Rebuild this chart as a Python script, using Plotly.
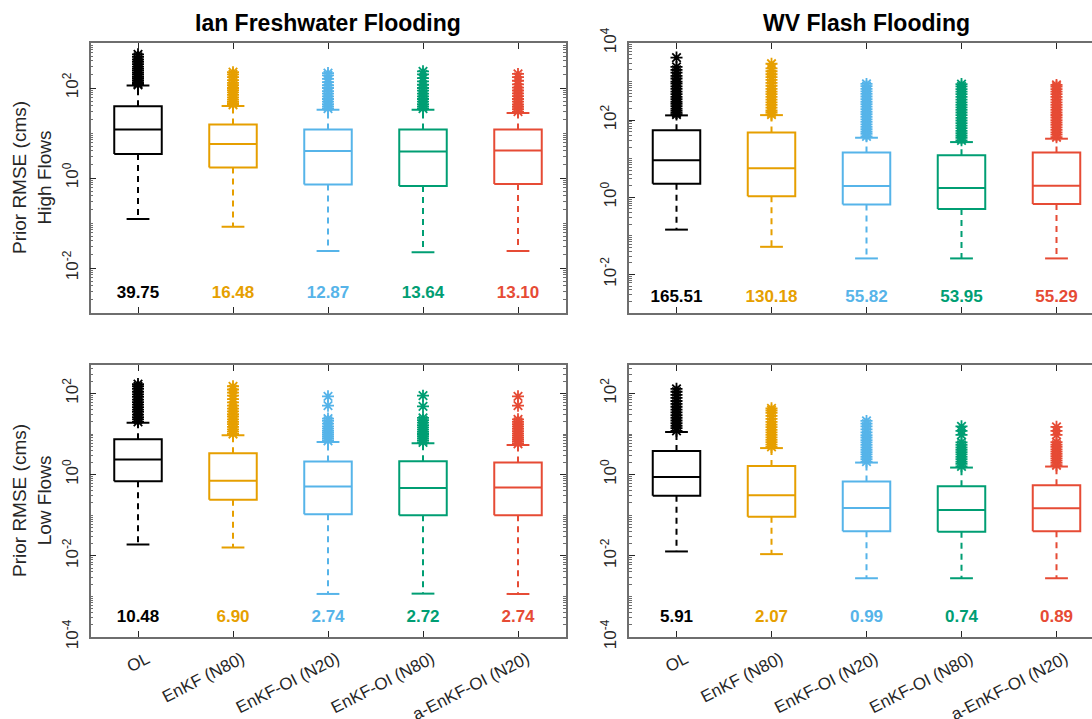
import plotly.graph_objects as go

# ---------------------------------------------------------------------------
# Data
# ---------------------------------------------------------------------------
methods = ["OL", "EnKF (N80)", "EnKF-OI (N20)", "EnKF-OI (N80)", "a-EnKF-OI (N20)"]
colors = ["#000000", "#E69F00", "#56B4E9", "#009E73", "#E64B35"]

# Ian Freshwater Flooding - high flows
ian_high_lower = [0.123, 0.083, 0.024, 0.0224, 0.024]
ian_high_q1 = [3.4, 1.72, 0.72, 0.66, 0.74]
ian_high_median = [12.0, 5.7, 4.0, 3.9, 4.1]
ian_high_q3 = [39.5, 15.5, 12.0, 12.0, 12.0]
ian_high_upper = [113, 40, 33, 33, 28]
ian_high_mean = [39.75, 16.48, 12.87, 13.64, 13.10]
ian_high_outliers = [
    [118, 125, 135, 150, 165, 180, 200, 220, 245, 270, 300, 340, 380, 430, 490, 560],
    [42, 46, 50, 55, 62, 70, 80, 90, 100, 115, 130, 150, 175, 200, 225],
    [35, 39, 44, 50, 57, 65, 75, 85, 100, 115, 135, 160, 190, 215],
    [35, 39, 44, 50, 57, 65, 75, 87, 100, 118, 140, 165, 200, 235],
    [30, 34, 38, 43, 50, 57, 66, 76, 88, 102, 120, 145, 175, 205],
]

# WV Flash Flooding - high flows
wv_high_lower = [0.145, 0.052, 0.026, 0.026, 0.026]
wv_high_q1 = [2.26, 1.06, 0.65, 0.50, 0.67]
wv_high_median = [9.1, 5.7, 1.96, 1.74, 2.0]
wv_high_q3 = [55, 47.6, 14.4, 12.3, 14.4]
wv_high_upper = [133, 135, 35, 27, 33]
wv_high_mean = [165.51, 130.18, 55.82, 53.95, 55.29]
wv_high_outliers = [
    [140, 155, 175, 200, 230, 265, 300, 350, 400, 470, 550, 650, 750, 880, 1000,
     1200, 1400, 1700, 2000, 2400, 4200],
    [140, 160, 180, 210, 250, 290, 340, 400, 470, 550, 650, 780, 920, 1100, 1300,
     1550, 1850, 2200, 2900],
    [38, 44, 50, 58, 67, 78, 90, 105, 122, 142, 165, 192, 225, 260, 300, 350, 410,
     480, 560, 650, 760, 870],
    [30, 35, 40, 46, 53, 62, 72, 84, 98, 115, 135, 158, 185, 215, 250, 290, 340,
     400, 470, 550, 640, 750, 860],
    [36, 42, 48, 56, 65, 75, 87, 100, 117, 136, 158, 184, 214, 250, 290, 340, 400,
     470, 550, 640, 740, 820],
]

# Ian Freshwater Flooding - low flows
ian_low_lower = [0.019, 0.016, 0.00115, 0.00117, 0.00115]
ian_low_q1 = [0.69, 0.24, 0.105, 0.10, 0.10]
ian_low_median = [2.35, 0.71, 0.51, 0.47, 0.48]
ian_low_q3 = [7.4, 3.36, 2.1, 2.14, 2.0]
ian_low_upper = [19, 9.3, 6.4, 5.9, 5.4]
ian_low_mean = [10.48, 6.90, 2.74, 2.72, 2.74]
ian_low_outliers = [
    [20, 23, 26, 30, 35, 40, 46, 53, 61, 70, 82, 95, 110, 130, 150, 170],
    [10, 11.5, 13, 15, 17.5, 20, 23, 27, 31, 36, 42, 50, 60, 72, 88, 105, 125, 150],
    [6.8, 7.6, 8.5, 9.5, 10.7, 12, 13.5, 15.5, 18, 21, 24, 50, 85],
    [6.2, 7, 7.8, 8.8, 10, 11.3, 12.8, 14.5, 16.5, 19, 22, 25, 48, 88],
    [5.7, 6.4, 7.2, 8.1, 9.2, 10.4, 11.8, 13.4, 15.3, 17.5, 20, 23, 50, 85],
]

# WV Flash Flooding - low flows
wv_low_lower = [0.0128, 0.011, 0.0028, 0.0028, 0.0028]
wv_low_q1 = [0.30, 0.092, 0.04, 0.039, 0.04]
wv_low_median = [0.87, 0.31, 0.15, 0.134, 0.148]
wv_low_q3 = [3.8, 1.63, 0.68, 0.52, 0.55]
wv_low_upper = [11.2, 4.5, 1.98, 1.49, 1.58]
wv_low_mean = [5.91, 2.07, 0.99, 0.74, 0.89]
wv_low_outliers = [
    [12, 14, 16, 18.5, 21.5, 25, 29, 34, 40, 47, 55, 65, 78, 92, 110, 130],
    [4.8, 5.5, 6.3, 7.2, 8.3, 9.5, 11, 12.7, 14.7, 17, 20, 23.5, 28, 33, 38, 43],
    [2.1, 2.4, 2.75, 3.15, 3.6, 4.1, 4.7, 5.4, 6.2, 7.1, 8.2, 9.4, 11, 13, 15.5, 18, 21],
    [1.6, 1.85, 2.1, 2.4, 2.75, 3.15, 3.6, 4.1, 4.7, 5.4, 6.2, 9.5, 12, 15.5],
    [1.7, 1.95, 2.2, 2.5, 2.85, 3.25, 3.7, 4.2, 4.8, 5.5, 6.3, 9.5, 12, 15],
]

# ---------------------------------------------------------------------------
# Layout constants (pixels of a 1092 x 719 canvas)
# ---------------------------------------------------------------------------
W, H = 1092, 719
FONT = "Liberation Sans, Arial, Helvetica, sans-serif"
TEXT_COLOR = "#262626"
AXIS_COLOR = "#6e6e6e"

LEFT_X = (90.5, 565.5)
RIGHT_X = (629.0, 1092.0)
TOP_Y = (43.0, 313.0)
BOTTOM_Y = (365.0, 637.0)
UNIT_PX = 95.0  # pixels per category slot

BOX_HALF = 0.25
CAP_HALF = 0.12


def xdom(px):
    return [px[0] / W, px[1] / W]


def ydom(py):
    return [(H - py[1]) / H, (H - py[0]) / H]


panels = [
    dict(xa="x", ya="y", xpx=LEFT_X, ypx=TOP_Y, yrange=(-3, 3), mean_y=10 ** -2.58,
         lower=ian_high_lower, q1=ian_high_q1, med=ian_high_median, q3=ian_high_q3,
         upper=ian_high_upper, mean=ian_high_mean, out=ian_high_outliers),
    dict(xa="x2", ya="y2", xpx=RIGHT_X, ypx=TOP_Y, yrange=(-3, 4), mean_y=10 ** -2.6,
         lower=wv_high_lower, q1=wv_high_q1, med=wv_high_median, q3=wv_high_q3,
         upper=wv_high_upper, mean=wv_high_mean, out=wv_high_outliers),
    dict(xa="x3", ya="y3", xpx=LEFT_X, ypx=BOTTOM_Y, yrange=(-4, 2.7), mean_y=10 ** -3.53,
         lower=ian_low_lower, q1=ian_low_q1, med=ian_low_median, q3=ian_low_q3,
         upper=ian_low_upper, mean=ian_low_mean, out=ian_low_outliers),
    dict(xa="x4", ya="y4", xpx=RIGHT_X, ypx=BOTTOM_Y, yrange=(-4, 2.7), mean_y=10 ** -3.53,
         lower=wv_low_lower, q1=wv_low_q1, med=wv_low_median, q3=wv_low_q3,
         upper=wv_low_upper, mean=wv_low_mean, out=wv_low_outliers),
]

fig = go.Figure()

for p in panels:
    for i, col in enumerate(colors):
        xc = i + 1
        lo, a, m, b, hi = p["lower"][i], p["q1"][i], p["med"][i], p["q3"][i], p["upper"][i]
        # box outline, median and whisker caps
        xs = [xc - BOX_HALF, xc + BOX_HALF, xc + BOX_HALF, xc - BOX_HALF, xc - BOX_HALF, None,
              xc - BOX_HALF, xc + BOX_HALF, None,
              xc - CAP_HALF, xc + CAP_HALF, None,
              xc - CAP_HALF, xc + CAP_HALF]
        ys = [a, a, b, b, a, None,
              m, m, None,
              hi, hi, None,
              lo, lo]
        fig.add_trace(go.Scatter(x=xs, y=ys, mode="lines", xaxis=p["xa"], yaxis=p["ya"],
                                 line=dict(color=col, width=2), hoverinfo="skip"))
        # dashed whiskers
        fig.add_trace(go.Scatter(x=[xc, xc, None, xc, xc], y=[b, hi, None, a, lo],
                                 mode="lines", xaxis=p["xa"], yaxis=p["ya"],
                                 line=dict(color=col, width=2, dash="6px,5px"),
                                 hoverinfo="skip"))
        # outliers
        outs = p["out"][i]
        fig.add_trace(go.Scatter(x=[xc] * len(outs), y=outs, mode="markers",
                                 xaxis=p["xa"], yaxis=p["ya"],
                                 marker=dict(symbol="asterisk-open", size=10, color=col,
                                             line=dict(color=col, width=1.8))))
    # mean labels
    fig.add_trace(go.Scatter(x=[1, 2, 3, 4, 5], y=[p["mean_y"]] * 5, mode="text",
                             xaxis=p["xa"], yaxis=p["ya"],
                             text=[f"{v:.2f}" for v in p["mean"]],
                             textposition="middle center",
                             textfont=dict(family=FONT, size=17, color=colors, weight="bold"),
                             hoverinfo="skip"))


def log_ticks(lo, hi):
    lo_i, hi_i = int(round(lo)) if lo == int(lo) else int(lo) - 1, int(hi) + 1
    major, text, minor = [], [], []
    for k in range(lo_i, hi_i + 1):
        if k % 2 == 0:
            major.append(10.0 ** k)
            text.append(f"10<sup>{k}</sup>")
        else:
            minor.append(10.0 ** k)
        for d in range(2, 10):
            minor.append(d * 10.0 ** k)
    return major, text, minor


layout = dict(
    width=W, height=H,
    margin=dict(l=0, r=0, t=0, b=0, autoexpand=False),
    plot_bgcolor="white", paper_bgcolor="white",
    showlegend=False,
    font=dict(family=FONT, color=TEXT_COLOR),
)

for idx, p in enumerate(panels):
    suffix = "" if idx == 0 else str(idx + 1)
    is_left = p["xpx"] == LEFT_X
    is_bottom = p["ypx"] == BOTTOM_Y
    span = (p["xpx"][1] - p["xpx"][0]) / UNIT_PX
    layout["xaxis" + suffix] = dict(
        domain=xdom(p["xpx"]), anchor=p["ya"], range=[0.5, 0.5 + span],
        tickmode="array", tickvals=[1, 2, 3, 4, 5], ticktext=methods,
        showticklabels=is_bottom, tickangle=-27, automargin=False,
        ticklabelshift=9, ticklabelstandoff=4,
        tickfont=dict(family=FONT, size=17, color=TEXT_COLOR),
        ticks="inside", ticklen=6, tickwidth=1.2, tickcolor=TEXT_COLOR,
        showline=True, linecolor=AXIS_COLOR, linewidth=1.5, mirror="allticks",
        showgrid=False, zeroline=False, fixedrange=True,
    )
    major, text, minor = log_ticks(*p["yrange"])
    layout["yaxis" + suffix] = dict(
        domain=ydom(p["ypx"]), anchor=p["xa"], type="log", range=list(p["yrange"]),
        tickmode="array", tickvals=major, ticktext=text, tickangle=-90, automargin=False,
        ticklabelstandoff=4,
        tickfont=dict(family=FONT, size=17, color=TEXT_COLOR),
        ticks="inside", ticklen=6, tickwidth=1.2, tickcolor=TEXT_COLOR,
        minor=dict(tickmode="array", tickvals=minor, ticks="inside", ticklen=3,
                   tickwidth=1, tickcolor=AXIS_COLOR, showgrid=False),
        showline=True, linecolor=AXIS_COLOR, linewidth=1.5,
        mirror="allticks" if is_left else False,
        showgrid=False, zeroline=False, fixedrange=True,
    )

fig.update_layout(**layout)

# panel titles
titles = [("Ian Freshwater Flooding", LEFT_X), ("WV Flash Flooding", (629.0, 1104.0))]
for t, px in titles:
    fig.add_annotation(text="<b>" + t + "</b>", xref="paper", yref="paper",
                       x=(px[0] + px[1]) / 2 / W, y=(H - 23) / H,
                       xanchor="center", yanchor="middle", showarrow=False,
                       font=dict(family=FONT, size=23, color="#000000"))

# row labels
row_labels = [("Prior RMSE (cms)<br>High Flows", TOP_Y), ("Prior RMSE (cms)<br>Low Flows", BOTTOM_Y)]
for t, py in row_labels:
    fig.add_annotation(text=t, xref="paper", yref="paper",
                       x=32 / W, y=(H - (py[0] + py[1]) / 2) / H,
                       xanchor="center", yanchor="middle", textangle=-90,
                       showarrow=False,
                       font=dict(family=FONT, size=19, color=TEXT_COLOR))

fig.write_html("out.html")
